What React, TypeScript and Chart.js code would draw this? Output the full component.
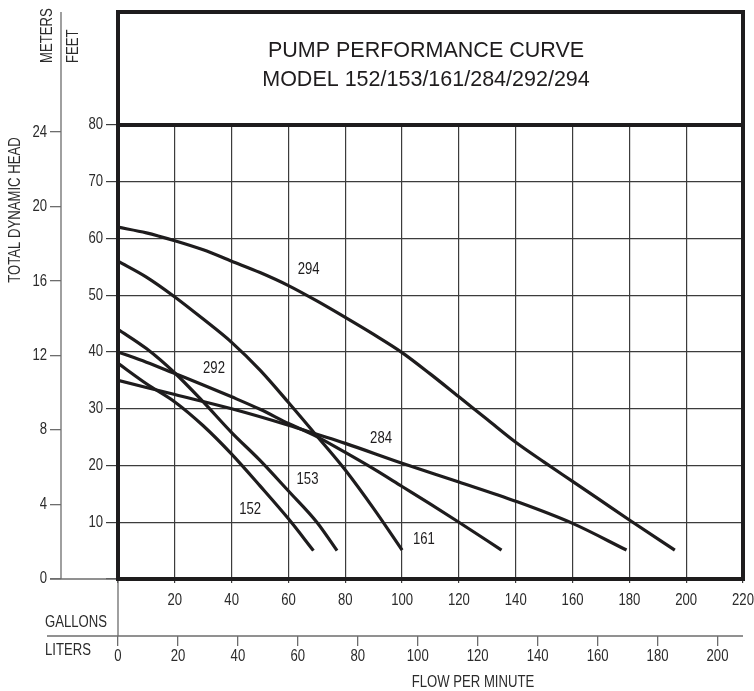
import React, { useEffect, useRef } from 'react';
import { Chart, registerables } from 'chart.js';

Chart.register(...registerables);

// ---- axis ticks ----
const GPM_TICKS = [0, 20, 40, 60, 80, 100, 120, 140, 160, 180, 200, 220];
const LPM_TICKS = [0, 20, 40, 60, 80, 100, 120, 140, 160, 180, 200];
const FEET_TICKS = [0, 10, 20, 30, 40, 50, 60, 70, 80];
const METER_TICKS = [0, 4, 8, 12, 16, 20, 24];

// ---- curves (gallons per minute -> feet of head) ----
const M152_GPM = [0, 10, 20, 30, 40, 50, 60, 68.8];
const M152_FT = [38, 34.4, 31.2, 27, 22, 16.4, 10.6, 5.0];

const M153_GPM = [0, 10, 20, 30, 40, 50, 60, 70, 77.1];
const M153_FT = [44, 40.6, 36.3, 31.2, 25.8, 20.9, 15.5, 10, 5.0];

const M161_GPM = [0, 10, 20, 30, 40, 50, 60, 70, 80, 90, 100];
const M161_FT = [56, 53.2, 49.7, 45.8, 41.7, 36.8, 31.1, 25.2, 19.2, 12.4, 5.1];

const M284_GPM = [0, 20, 40, 60, 70, 80, 100, 120, 140, 160, 179];
const M284_FT = [35, 32.5, 30, 27.1, 25.5, 23.9, 20.4, 17.1, 13.7, 9.8, 5.1];

const M292_GPM = [0, 10, 20, 30, 40, 50, 60, 70, 80, 90, 100, 110, 120, 135];
const M292_FT = [40, 38.2, 36.2, 34.2, 32.1, 29.9, 27.4, 25.1, 22.3, 19.4, 16.3, 13.2, 10, 5.1];

const M294_GPM = [0, 10, 20, 30, 40, 50, 60, 70, 80, 90, 100, 110, 120, 130, 140, 150, 160, 170, 180, 196];
const M294_FT = [62, 61.0, 59.6, 58.0, 56.0, 54.0, 51.7, 49.0, 46.1, 43.1, 39.9, 36.1, 32.1, 28.1, 24.1, 20.6, 17.2, 13.8, 10.4, 5.1];

const MODELS = ['152', '153', '161', '284', '292', '294'];
const SERIES_GPM = [M152_GPM, M153_GPM, M161_GPM, M284_GPM, M292_GPM, M294_GPM];
const SERIES_FT = [M152_FT, M153_FT, M161_FT, M284_FT, M292_FT, M294_FT];

// label anchor points (gpm, feet)
const LABEL_GPM = [46.5, 66.7, 107.7, 92.6, 33.8, 67.1];
const LABEL_FT = [12.3, 17.6, 6.9, 24.8, 37.0, 54.6];

const TITLE_1 = 'PUMP PERFORMANCE CURVE';
const TITLE_2 = 'MODEL 152/153/161/284/292/294';

const FT_TO_M = 0.3048;
const LPM_MAX = 208.5;

const FONT = "'Liberation Sans', Arial, sans-serif";
const NARROW_X = 0.82; // emulate a narrow face
const TEXT = '#2b2b2b';
const GRID = '#3c3c3c';
const AXIS = '#6d6d6d';
const INK = '#1e1c1d';
const TITLE_TOP = 12;

function narrowText(
  ctx: CanvasRenderingContext2D,
  t: string,
  x: number,
  y: number,
  align: CanvasTextAlign,
  size = 16,
  rotate = 0,
) {
  ctx.save();
  ctx.translate(x, y);
  if (rotate) ctx.rotate(rotate);
  ctx.scale(NARROW_X, 1);
  ctx.font = `${size}px ${FONT}`;
  ctx.textAlign = align;
  ctx.textBaseline = 'middle';
  ctx.fillText(t, 0, 0);
  ctx.restore();
}

const decorPlugin = {
  id: 'decor',
  afterDraw(chart: any) {
    const { ctx, chartArea } = chart;
    const { left, right, top, bottom } = chartArea;
    const sx = chart.scales.x;
    const sy = chart.scales.y;
    const sm = chart.scales.y2;
    const sl = chart.scales.x2;
    ctx.save();

    // thin axis lines
    ctx.strokeStyle = AXIS;
    ctx.lineWidth = 1.3;
    ctx.beginPath();
    ctx.moveTo(sm.right, TITLE_TOP);
    ctx.lineTo(sm.right, sy.getPixelForValue(0));
    ctx.moveTo(sm.right - 11, sy.getPixelForValue(0));
    ctx.lineTo(left, sy.getPixelForValue(0));
    ctx.moveTo(47, sl.top);
    ctx.lineTo(right, sl.top);
    ctx.moveTo(sx.getPixelForValue(0), bottom);
    ctx.lineTo(sx.getPixelForValue(0), sl.top);
    ctx.stroke();

    // frames
    ctx.strokeStyle = INK;
    ctx.lineWidth = 4;
    ctx.strokeRect(left, top, right - left, bottom - top);
    ctx.strokeRect(left, TITLE_TOP, right - left, top - TITLE_TOP);

    // title
    ctx.fillStyle = INK;
    ctx.textAlign = 'center';
    ctx.textBaseline = 'middle';
    ctx.font = `21.5px ${FONT}`;
    ctx.fillText(TITLE_1, 426, 51);
    ctx.fillText(TITLE_2, 426, 80);

    // tick labels
    ctx.fillStyle = TEXT;
    GPM_TICKS.forEach((v) => {
      if (v !== 0) narrowText(ctx, String(v), sx.getPixelForValue(v), 601, 'center');
    });
    LPM_TICKS.forEach((v) => {
      narrowText(ctx, String(v), sl.getPixelForValue(v), 657, 'center');
    });
    FEET_TICKS.forEach((v) => {
      if (v !== 0) narrowText(ctx, String(v), sy.right - 15, sy.getPixelForValue(v), 'right');
    });
    METER_TICKS.forEach((v) => {
      narrowText(ctx, String(v), sm.right - 14, sm.getPixelForValue(v), 'right');
    });

    // axis words
    narrowText(ctx, 'GALLONS', 45, 623, 'left');
    narrowText(ctx, 'LITERS', 45, 650.5, 'left');
    narrowText(ctx, 'FLOW PER MINUTE', 473, 683, 'center');
    narrowText(ctx, 'TOTAL DYNAMIC HEAD', 16, 210, 'center', 16, -Math.PI / 2);
    narrowText(ctx, 'METERS', 48, 63, 'left', 16, -Math.PI / 2);
    narrowText(ctx, 'FEET', 74, 63, 'left', 16, -Math.PI / 2);

    // curve labels
    ctx.fillStyle = INK;
    MODELS.forEach((m, i) => {
      narrowText(ctx, m, sx.getPixelForValue(LABEL_GPM[i]), sy.getPixelForValue(LABEL_FT[i]), 'center');
    });

    ctx.restore();
  },
};

const hiddenTicks = { display: false };

export default function App() {
  const ref = useRef<HTMLCanvasElement | null>(null);

  useEffect(() => {
    if (!ref.current) return;
    const datasets = MODELS.map((m, i) => ({
      label: m,
      data: SERIES_GPM[i].map((g, j) => ({ x: g, y: SERIES_FT[i][j] })),
      borderColor: INK,
      borderWidth: 3.2,
      pointRadius: 0,
      fill: false,
      cubicInterpolationMode: 'monotone' as const,
    }));

    const chart = new Chart(ref.current, {
      type: 'line',
      data: { datasets },
      options: {
        animation: false,
        responsive: false,
        devicePixelRatio: 1,
        layout: { padding: { left: 0, top: 125, right: 11, bottom: 0 } },
        plugins: { legend: { display: false }, tooltip: { enabled: false } },
        scales: {
          x: {
            type: 'linear',
            position: 'bottom',
            min: 0,
            max: 220,
            afterBuildTicks: (s: any) => { s.ticks = GPM_TICKS.map((v) => ({ value: v })); },
            afterFit: (s: any) => { s.height = 57; },
            ticks: hiddenTicks,
            grid: { color: GRID, lineWidth: 1.2, tickLength: 4 },
            border: { display: false },
          },
          x2: {
            type: 'linear',
            position: 'bottom',
            min: 0,
            max: LPM_MAX,
            afterBuildTicks: (s: any) => { s.ticks = LPM_TICKS.map((v) => ({ value: v })); },
            afterFit: (s: any) => { s.height = 55; },
            ticks: hiddenTicks,
            grid: { drawOnChartArea: false, color: AXIS, lineWidth: 1.3, tickLength: 10 },
            border: { display: false },
          },
          y: {
            type: 'linear',
            position: 'left',
            min: 0,
            max: 80,
            afterBuildTicks: (s: any) => { s.ticks = FEET_TICKS.map((v) => ({ value: v })); },
            afterFit: (s: any) => { s.width = 57; },
            ticks: hiddenTicks,
            grid: { color: GRID, lineWidth: 1.2, tickLength: 12 },
            border: { display: false },
          },
          y2: {
            type: 'linear',
            position: 'left',
            min: 0,
            max: 80 * FT_TO_M,
            afterBuildTicks: (s: any) => { s.ticks = METER_TICKS.map((v) => ({ value: v })); },
            afterFit: (s: any) => { s.width = 61; },
            ticks: hiddenTicks,
            grid: { drawOnChartArea: false, color: AXIS, lineWidth: 1.3, tickLength: 11 },
            border: { display: false },
          },
        },
      } as any,
      plugins: [decorPlugin],
    });
    return () => chart.destroy();
  }, []);

  return (
    <div style={{ position: 'fixed', left: 0, top: 0, width: 754, height: 691, background: '#fff' }}>
      <canvas ref={ref} width={754} height={691} style={{ display: 'block', width: 754, height: 691 }} />
    </div>
  );
}
